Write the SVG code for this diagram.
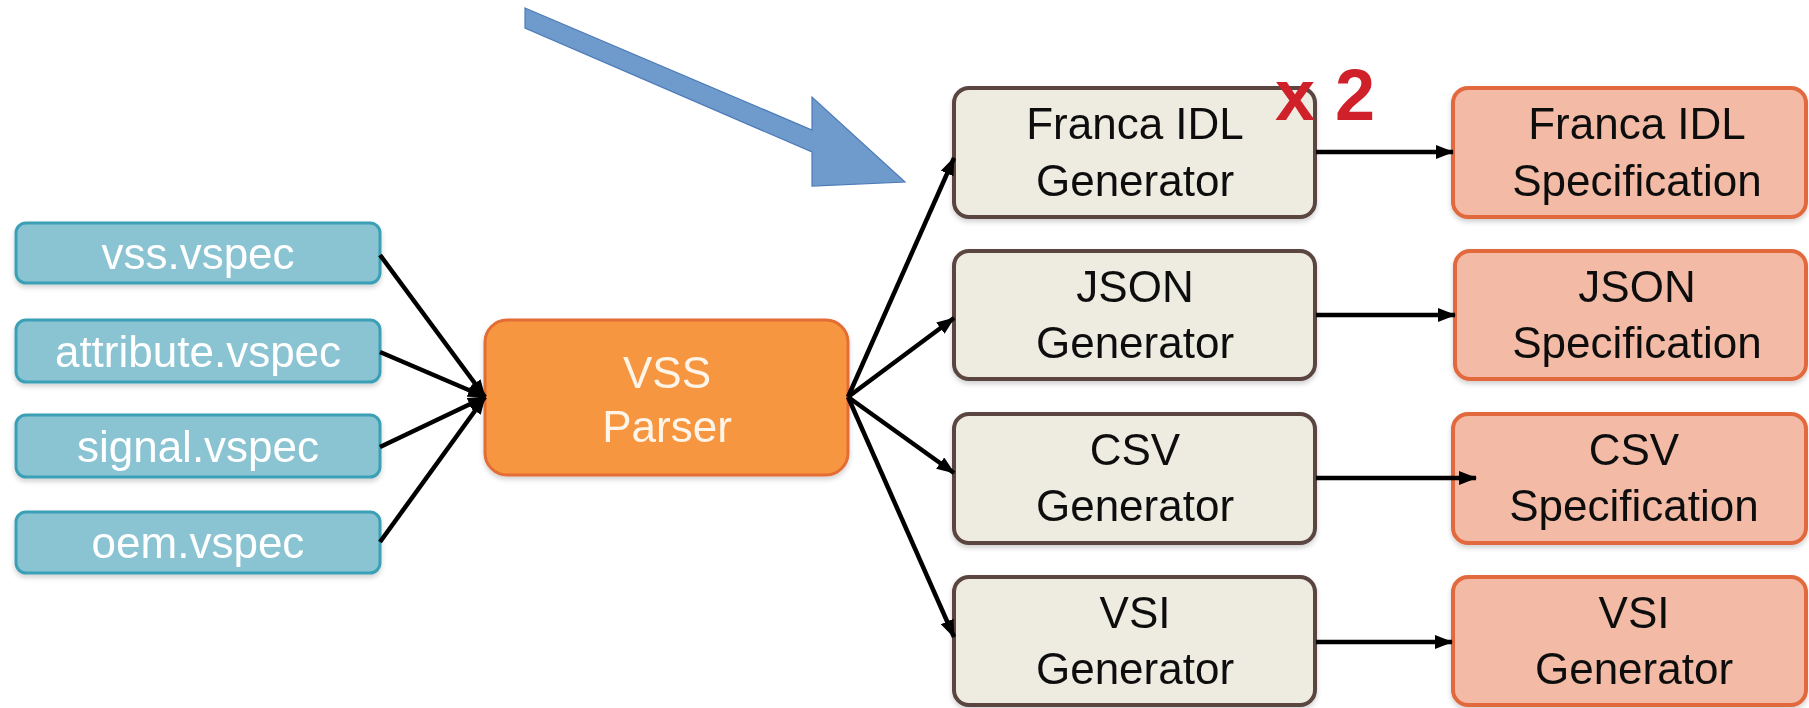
<svg xmlns="http://www.w3.org/2000/svg" width="1809" height="708" viewBox="0 0 1809 708">
<style>
text{font-family:"Liberation Sans",Arial,sans-serif;font-size:44px;text-anchor:middle}
.in rect{fill:#8ac4d2;stroke:#3aa0b6;stroke-width:3}
.in text{fill:#ffffff}
.par rect{fill:#f6963f;stroke:#e36d36;stroke-width:3}
.par text{fill:#fff4e8}
.gen rect{fill:#eeebe1;stroke:#5a4541;stroke-width:4}
.gen text{fill:#111}
.spec rect{fill:#f3bba6;stroke:#e2683c;stroke-width:4}
.spec text{fill:#111}
.conn line{stroke:#000;stroke-width:4.5;marker-end:url(#ah)}
</style>
<defs>
<marker id="ah" markerUnits="userSpaceOnUse" markerWidth="18" markerHeight="14" refX="17" refY="7" orient="auto">
<path d="M0,0 L18,7 L0,14 z" fill="#000"/>
</marker>
<filter id="sh" x="-5%" y="-10%" width="110%" height="130%">
<feDropShadow dx="0" dy="3" stdDeviation="2.5" flood-color="#000" flood-opacity="0.18"/>
</filter>
</defs>

<g id="vss-vspec" class="in" filter="url(#sh)">
<rect x="16" y="223" width="364" height="60" rx="10"/>
<text x="198" y="269">vss.vspec</text>
</g>
<g id="attribute-vspec" class="in" filter="url(#sh)">
<rect x="16" y="320" width="364" height="62" rx="10"/>
<text x="198" y="367">attribute.vspec</text>
</g>
<g id="signal-vspec" class="in" filter="url(#sh)">
<rect x="16" y="415" width="364" height="62" rx="10"/>
<text x="198" y="462">signal.vspec</text>
</g>
<g id="oem-vspec" class="in" filter="url(#sh)">
<rect x="16" y="512" width="364" height="61" rx="10"/>
<text x="198" y="558">oem.vspec</text>
</g>

<g id="vss-parser" class="par" filter="url(#sh)">
<rect x="485" y="320" width="363" height="155" rx="22"/>
<text x="667" y="388">VSS</text>
<text x="667" y="442">Parser</text>
</g>

<g id="franca-gen" class="gen" filter="url(#sh)">
<rect x="954" y="88" width="361" height="129" rx="15"/>
<text x="1135" y="139">Franca IDL</text>
<text x="1135" y="196">Generator</text>
</g>
<g id="json-gen" class="gen" filter="url(#sh)">
<rect x="954" y="251" width="361" height="128" rx="15"/>
<text x="1135" y="302">JSON</text>
<text x="1135" y="358">Generator</text>
</g>
<g id="csv-gen" class="gen" filter="url(#sh)">
<rect x="954" y="414" width="361" height="129" rx="15"/>
<text x="1135" y="465">CSV</text>
<text x="1135" y="521">Generator</text>
</g>
<g id="vsi-gen" class="gen" filter="url(#sh)">
<rect x="954" y="577" width="361" height="128" rx="15"/>
<text x="1135" y="628">VSI</text>
<text x="1135" y="684">Generator</text>
</g>

<g id="franca-spec" class="spec" filter="url(#sh)">
<rect x="1453" y="88" width="353" height="129" rx="15"/>
<text x="1637" y="139">Franca IDL</text>
<text x="1637" y="196">Specification</text>
</g>
<g id="json-spec" class="spec" filter="url(#sh)">
<rect x="1455" y="251" width="351" height="128" rx="15"/>
<text x="1637" y="302">JSON</text>
<text x="1637" y="358">Specification</text>
</g>
<g id="csv-spec" class="spec" filter="url(#sh)">
<rect x="1453" y="414" width="353" height="129" rx="15"/>
<text x="1634" y="465">CSV</text>
<text x="1634" y="521">Specification</text>
</g>
<g id="vsi-spec" class="spec" filter="url(#sh)">
<rect x="1453" y="577" width="353" height="128" rx="15"/>
<text x="1634" y="628">VSI</text>
<text x="1634" y="684">Generator</text>
</g>

<g id="connectors" class="conn">
<line x1="380" y1="255" x2="485" y2="397"/>
<line x1="380" y1="352" x2="485" y2="397"/>
<line x1="380" y1="447" x2="485" y2="397"/>
<line x1="380" y1="542" x2="485" y2="397"/>
<line x1="848" y1="397" x2="954" y2="158"/>
<line x1="848" y1="397" x2="954" y2="318"/>
<line x1="848" y1="397" x2="954" y2="473"/>
<line x1="848" y1="397" x2="954" y2="637"/>
<line x1="1316" y1="152" x2="1453" y2="152"/>
<line x1="1316" y1="315" x2="1455" y2="315"/>
<line x1="1316" y1="478" x2="1476" y2="478"/>
<line x1="1316" y1="642" x2="1452" y2="642"/>
</g>

<g id="blue-arrow">
<polygon points="525,8 812,130 812,97 905,182 812,186 812,152 525,28" fill="#6f9bcc" stroke="#4d7bb8" stroke-width="1.2"/>
</g>

<g id="x2-label">
<text x="1325" y="120" style="font-size:72px;font-weight:bold;fill:#d0202a">x 2</text>
</g>
</svg>
